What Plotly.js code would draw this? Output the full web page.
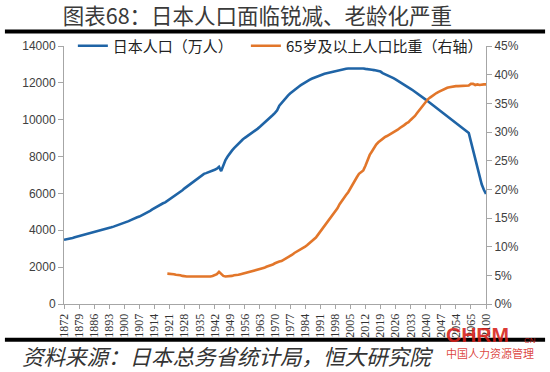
<!DOCTYPE html>
<html>
<head>
<meta charset="utf-8">
<script src="https://cdn.plot.ly/plotly-3.0.1.min.js"></script>
<style>html,body{margin:0;padding:0;background:#fff;}#chart{width:550px;height:372px;}</style>
</head>
<body>
<div id="chart"></div>
<script>
// Categories: annual 1872-2060, then every 5 years to 2100
var years = [];
for (var y = 1872; y <= 2060; y++) years.push(String(y));
["2065","2070","2075","2080","2085","2090","2095","2100"].forEach(function(v){ years.push(v); });

// 日本人口（万人）
var population = [
  3481,3500,3525,3550,3586,3622,3652,3677,3702,3737,
  3770,3812,3845,3870,3890,3916,3960,4007,4031,4063,
  4094,4126,4161,4198,4237,4277,4320,4362,4385,4436,
  4496,4554,4613,4662,4704,4742,4797,4856,4918,4989,
  5058,5136,5211,5275,5348,5414,5467,5517,5596,5667,
  5739,5812,5888,5974,6074,6174,6274,6364,6445,6545,
  6645,6745,6831,6925,7011,7063,7101,7138,7193,7222,
  7288,7340,7443,7215,7575,7810,8000,8177,8320,8454,
  8581,8698,8824,8928,9017,9093,9182,9277,9342,9429,
  9518,9616,9718,9828,9904,10020,10133,10254,10372,10515,
  10760,10910,11057,11194,11309,11417,11519,11616,11706,11790,
  11873,11954,12031,12105,12166,12224,12275,12321,12361,12410,
  12457,12494,12527,12557,12586,12616,12647,12667,12693,12732,
  12749,12769,12779,12777,12790,12803,12808,12803,12806,12783,
  12759,12730,12708,12709,12693,12671,12644,12612,12532,12484,
  12430,12373,12314,12254,12190,12123,12055,11985,11913,11834,
  11756,11677,11600,11522,11436,11350,11264,11178,11092,11002,
  10912,10822,10732,10642,10552,10462,10372,10282,10192,10102,
  10013,9923,9834,9744,9652,9560,9468,9376,9284,
  8808,8323,7841,7374,6926,6495,6198,5972
];

// 65岁及以上人口比重（%），from 1920
var elderlyStart = "1920";
var elderlyShare = [
  5.3,5.3,5.2,5.2,5.1,5.1,5.0,4.9,4.8,4.8,
  4.8,4.8,4.8,4.7,4.7,4.7,4.7,4.7,4.8,4.8,
  4.8,4.9,5.0,5.2,5.6,5.2,4.9,4.8,4.8,4.9,
  4.9,5.0,5.0,5.1,5.2,5.3,5.4,5.5,5.6,5.6,
  5.7,5.8,5.9,6.0,6.2,6.3,6.5,6.6,6.7,6.9,
  7.1,7.3,7.4,7.5,7.7,7.9,8.1,8.4,8.6,8.9,
  9.1,9.3,9.6,9.8,10.0,10.3,10.6,10.9,11.2,11.6,
  12.1,12.6,13.1,13.5,14.1,14.6,15.1,15.7,16.2,16.7,
  17.4,18.0,18.5,19.0,19.5,20.2,20.8,21.5,22.1,22.7,
  23.0,23.3,24.1,25.1,26.0,26.6,27.3,27.8,28.2,28.5,
  28.9,29.1,29.3,29.5,29.8,30.0,30.2,30.4,30.7,30.9,
  31.2,31.5,31.7,32.1,32.4,32.8,33.3,33.8,34.3,34.8,
  35.3,35.7,36.0,36.3,36.6,36.8,37.0,37.2,37.4,37.6,
  37.7,37.8,37.9,37.9,38.0,38.0,38.0,38.0,38.1,38.1,
  38.1,
  38.4,38.4,38.2,38.3,38.2,38.3,38.3,38.3
];

var tickYears = ["1872","1879","1886","1893","1900","1907","1914","1921","1928","1935",
  "1942","1949","1956","1963","1970","1977","1984","1991","1998","2005","2012","2019",
  "2026","2033","2040","2047","2054","2065","2100"];

var seriesNames = ["日本人口（万人）", "65岁及以上人口比重（右轴）"];
var titleText = "图表68：日本人口面临锐减、老龄化严重";
var sourceText = "资料来源：日本总务省统计局，恒大研究院";

var elderlyX = years.slice(years.indexOf(elderlyStart));

var traces = [
  {x: years, y: population, type: "scatter", mode: "lines", name: seriesNames[0],
   line: {color: "#1F64A6", width: 2.6}, yaxis: "y", legend: "legend"},
  {x: elderlyX, y: elderlyShare, type: "scatter", mode: "lines", name: seriesNames[1],
   line: {color: "#E2762A", width: 2.6}, yaxis: "y2", legend: "legend2"}
];

var axisColor = "#A6A6A6";
var legendFont = {family: "Noto Sans CJK SC", size: 15, color: "#222"};
var layout = {
  width: 550, height: 372,
  margin: {l: 64, r: 64, t: 46, b: 68, pad: 0},
  paper_bgcolor: "#fff", plot_bgcolor: "#fff",
  font: {family: "Noto Sans CJK SC, Liberation Sans, sans-serif", color: "#404040"},
  title: {text: titleText, x: 0.468, xanchor: "center", y: 0.955, yanchor: "middle",
          font: {family: "Noto Sans CJK SC", size: 21.5, color: "#3a3a3a"}},
  showlegend: true,
  legend: {orientation: "h", x: 0.021, xanchor: "left", y: 1.0, yanchor: "middle",
           bgcolor: "rgba(0,0,0,0)", font: legendFont, itemwidth: 30},
  legend2: {orientation: "h", x: 0.431, xanchor: "left", y: 1.0, yanchor: "middle",
           bgcolor: "rgba(0,0,0,0)", font: legendFont, itemwidth: 30},
  xaxis: {type: "category", range: [0, years.length - 1], tickmode: "array", tickvals: tickYears,
          ticktext: tickYears, tickangle: -90, ticks: "outside", ticklen: 4, tickcolor: axisColor,
          showline: true, linecolor: axisColor, linewidth: 1, showgrid: false, zeroline: false,
          tickfont: {family: "Liberation Serif", size: 12, color: "#333"}, fixedrange: true},
  yaxis: {range: [0, 14000], dtick: 2000, tick0: 0, tickformat: "d", ticks: "outside", ticklen: 5, tickcolor: axisColor,
          showline: true, linecolor: axisColor, linewidth: 1, showgrid: false, zeroline: false,
          tickfont: {family: "Liberation Sans", size: 12, color: "#404040"}},
  yaxis2: {range: [0, 45], dtick: 5, tick0: 0, ticksuffix: "%", overlaying: "y", side: "right",
           ticks: "outside", ticklen: 5, tickcolor: axisColor, showline: true, linecolor: axisColor,
           linewidth: 1, showgrid: false, zeroline: false,
           tickfont: {family: "Liberation Sans", size: 12, color: "#404040"}},
  shapes: [
    {type: "line", xref: "paper", yref: "paper", x0: -0.14, x1: 1.14, y0: 1.056, y1: 1.056,
     line: {color: "#000", width: 4}},
    {type: "line", xref: "paper", yref: "paper", x0: -0.14, x1: 1.14, y0: -0.139, y1: -0.139,
     line: {color: "#000", width: 4}}
  ],
  annotations: [
    {text: sourceText, xref: "paper", yref: "paper", x: -0.105, y: -0.2, xanchor: "left", yanchor: "middle",
     showarrow: false, font: {family: "Noto Sans CJK SC", size: 21.5, color: "#333", style: "italic"}},
    {text: "<b>CHRM</b>", xref: "paper", yref: "paper", x: 0.9, y: -0.12, xanchor: "left", yanchor: "middle",
     showarrow: false, font: {family: "Liberation Sans", size: 21, color: "rgba(214,30,24,0.9)"}},
    {text: "CN", xref: "paper", yref: "paper", x: 1.085, y: -0.142, xanchor: "left", yanchor: "middle",
     showarrow: false, font: {family: "Liberation Sans", size: 8, color: "rgba(214,30,24,0.9)"}},
    {text: "中国人力资源管理", xref: "paper", yref: "paper", x: 0.9, y: -0.19, xanchor: "left", yanchor: "middle",
     showarrow: false, font: {family: "Noto Sans CJK SC", size: 11, color: "rgba(214,30,24,0.85)"}}
  ]
};

Plotly.newPlot("chart", traces, layout, {displayModeBar: false, staticPlot: true});
</script>
</body>
</html>
